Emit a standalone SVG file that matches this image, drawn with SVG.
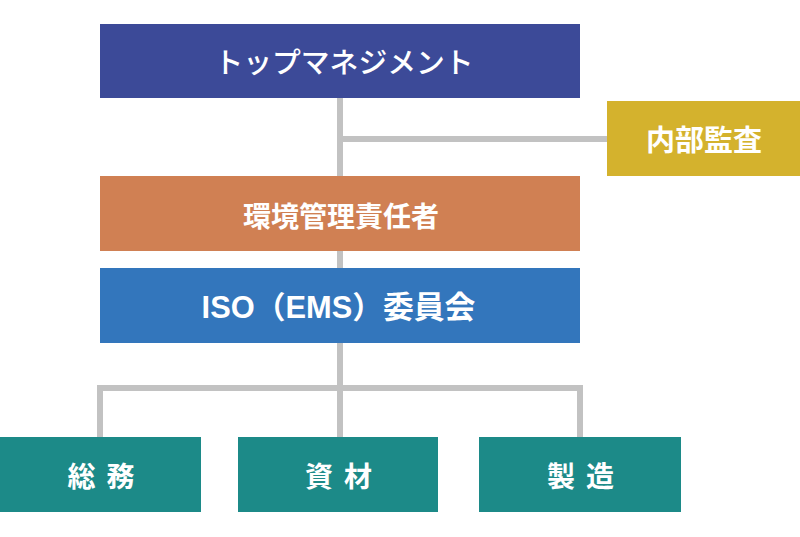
<svg xmlns="http://www.w3.org/2000/svg" width="800" height="537" viewBox="0 0 800 537">
<style>
.lbl{font-family:"Noto Sans CJK JP","Noto Sans",sans-serif;font-weight:700;fill:#ffffff;text-anchor:middle}
.conn{stroke:#c2c2c2;stroke-width:6;fill:none}
</style>
<rect width="800" height="537" fill="#ffffff"/>
<g id="connectors">
<path class="conn" d="M340 98V437"/>
<path class="conn" d="M340 139H607"/>
<path class="conn" d="M100 437V388H580V437"/>
</g>
<g id="top-management">
<rect x="100" y="24" width="480" height="74" fill="#3c4a98"/>
<text class="lbl" x="344" y="72.5" font-size="28.8" style="font-weight:500">トップマネジメント</text>
</g>
<g id="internal-audit">
<rect x="607" y="101" width="193" height="75" fill="#d4b22d"/>
<text class="lbl" x="704" y="151" font-size="29">内部監査</text>
</g>
<g id="env-manager">
<rect x="100" y="176" width="480" height="75" fill="#d08053"/>
<text class="lbl" x="341" y="227" font-size="28">環境管理責任者</text>
</g>
<g id="iso-committee">
<rect x="100" y="268" width="480" height="75" fill="#3376bc"/>
<text class="lbl" x="338.5" y="317.5" font-size="30.8" style="font-family:'Liberation Sans','Noto Sans CJK JP',sans-serif">ISO（EMS）委員会</text>
</g>
<g id="general-affairs">
<rect x="0" y="437" width="201" height="75" fill="#1c8a88"/>
<text class="lbl" x="106.5" y="487" font-size="28" letter-spacing="11">総務</text>
</g>
<g id="materials">
<rect x="238" y="437" width="200" height="75" fill="#1c8a88"/>
<text class="lbl" x="344" y="487" font-size="28" letter-spacing="11">資材</text>
</g>
<g id="manufacturing">
<rect x="479" y="437" width="202" height="75" fill="#1c8a88"/>
<text class="lbl" x="586" y="487" font-size="28" letter-spacing="11">製造</text>
</g>
</svg>
